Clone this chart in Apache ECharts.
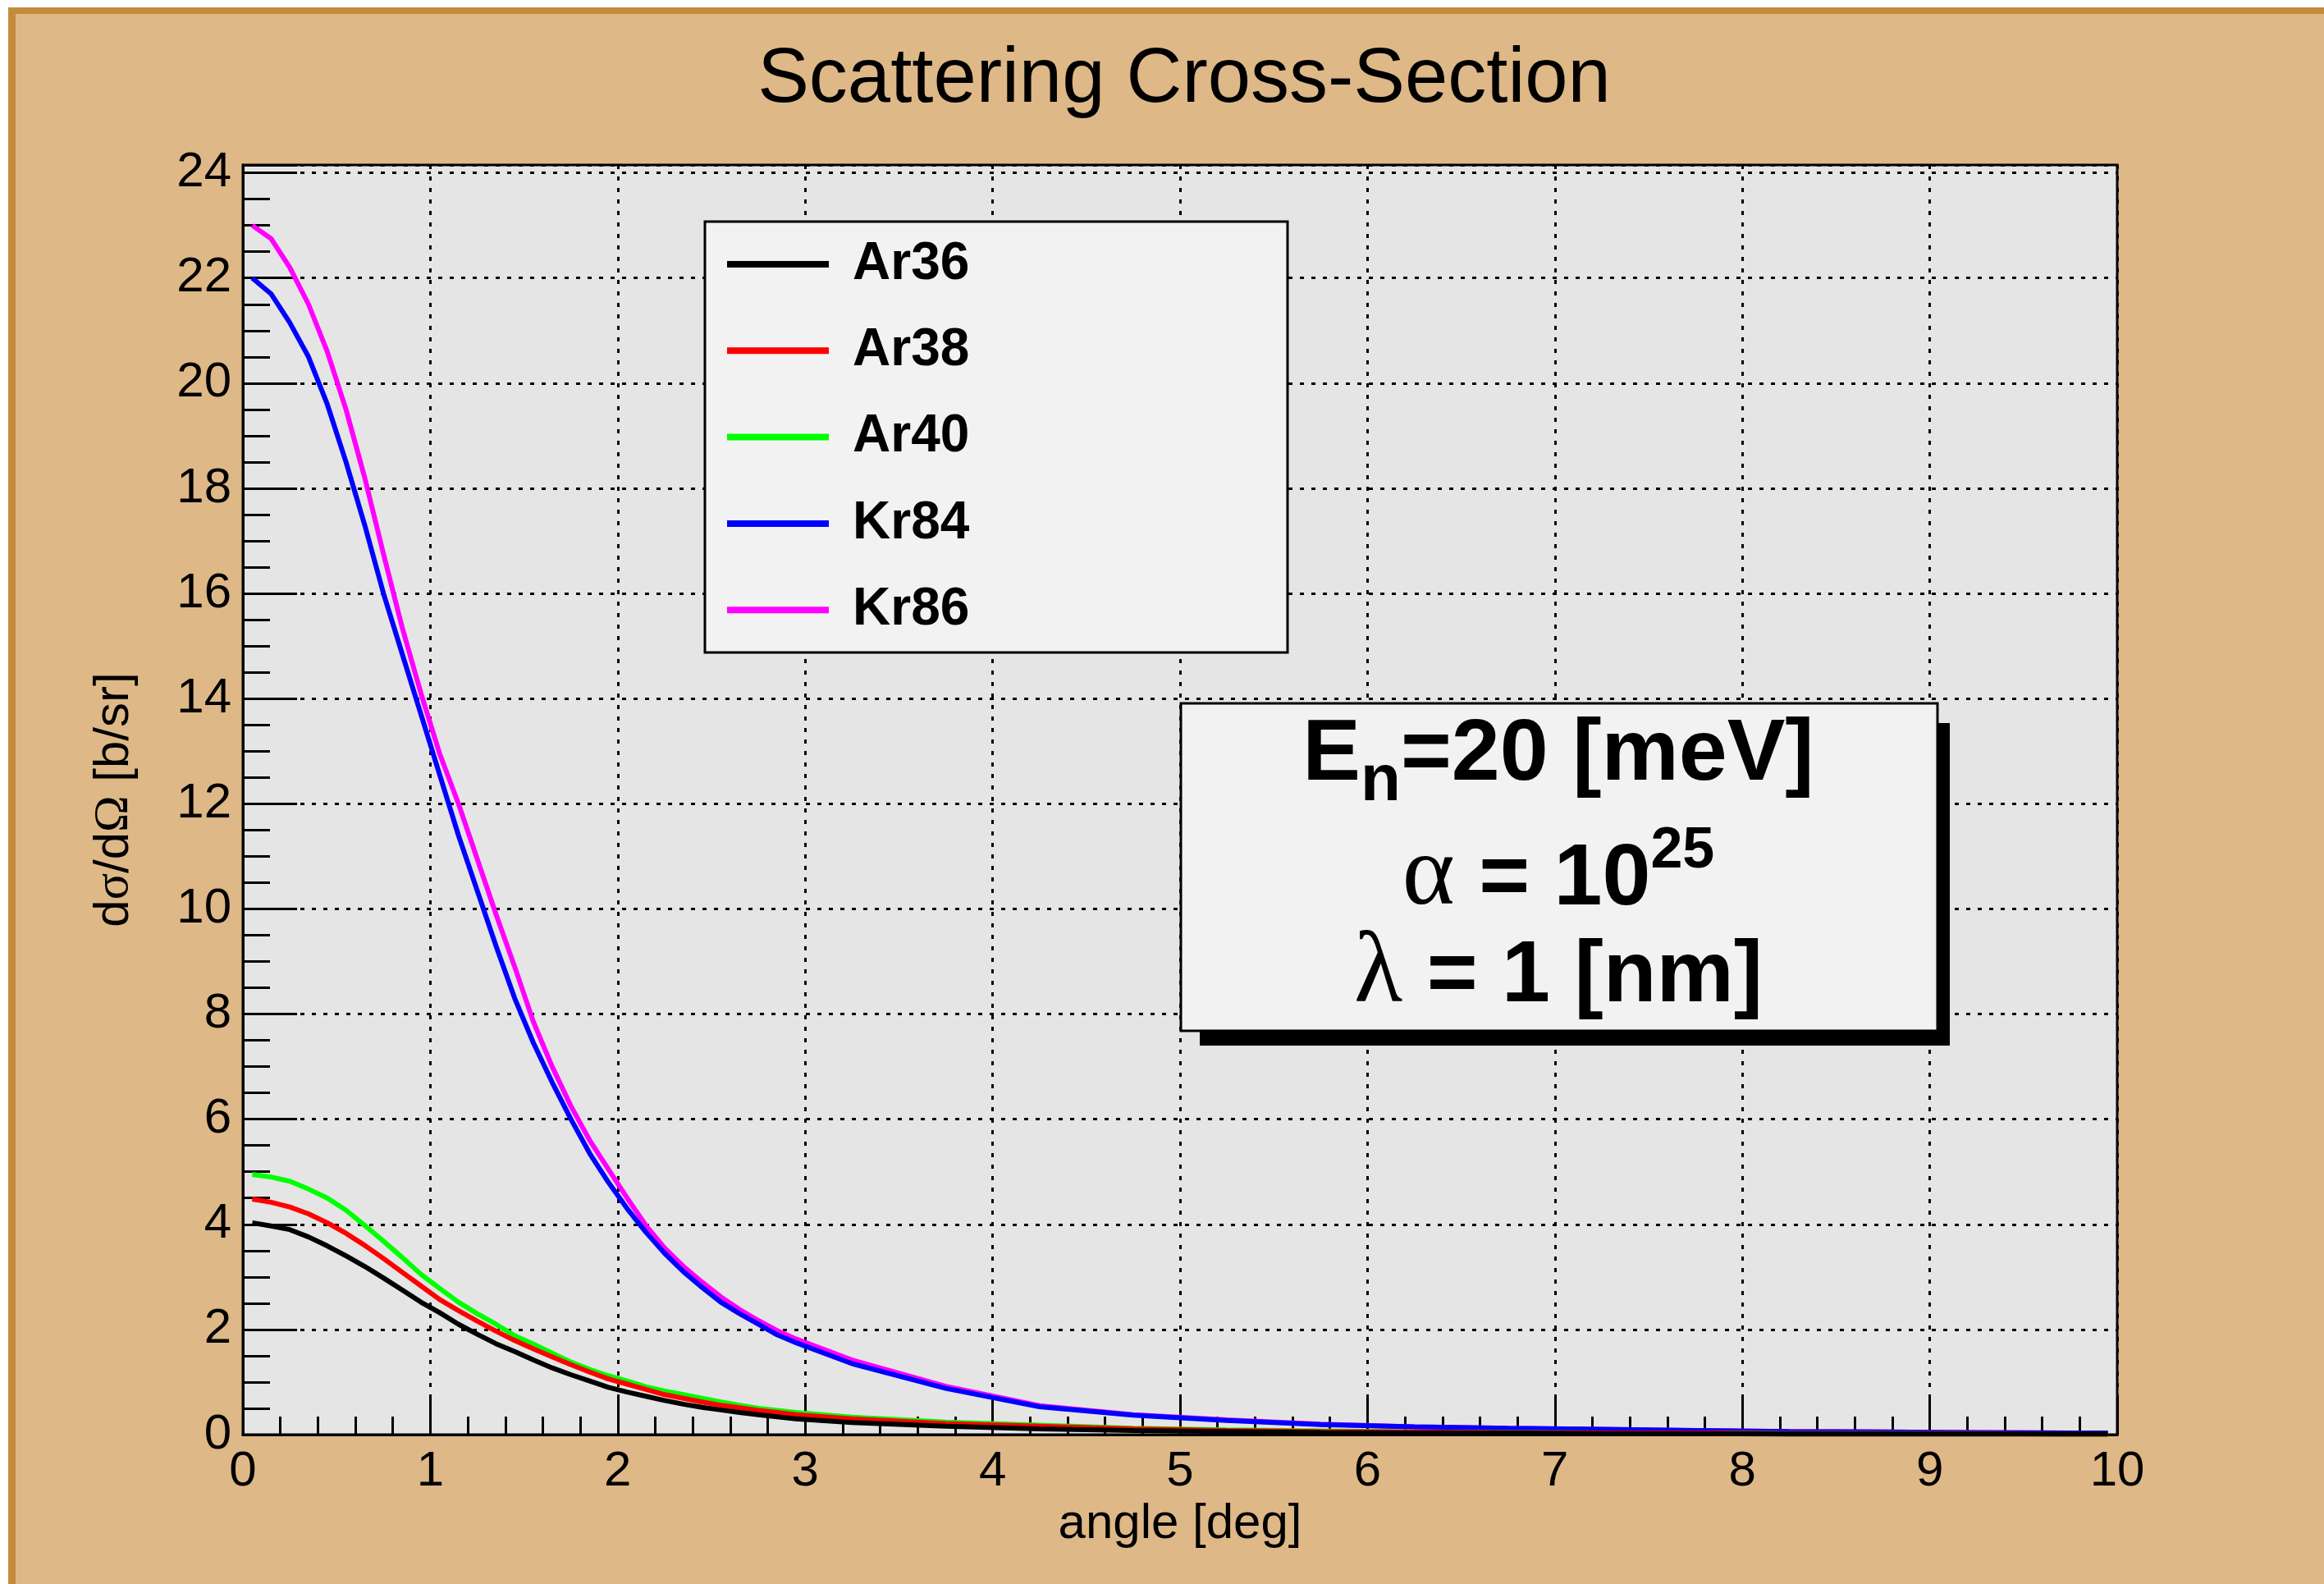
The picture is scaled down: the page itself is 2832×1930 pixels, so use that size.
<!DOCTYPE html>
<html>
<head>
<meta charset="utf-8">
<script src="https://cdn.jsdelivr.net/npm/echarts@6/dist/echarts.min.js"></script>
<style>html,body{margin:0;padding:0;background:#fff}#c{width:2832px;height:1930px}</style>
</head>
<body>
<div id="c"></div>
<script>
// ---------------- data ----------------
const angles = [0.05,0.15,0.25,0.35,0.45,0.55,0.65,0.75,0.85,0.95,
                1.05,1.15,1.25,1.35,1.45,1.55,1.65,1.75,1.85,1.95,
                2.05,2.15,2.25,2.35,2.45,2.55,2.65,2.75,2.85,2.95,
                3.25,3.75,4.25,4.75,5.25,5.75,6.25,6.75,7.25,7.75,8.25,8.75,9.25,9.75,9.95];
const ar36 = [4.03,3.97,3.90,3.76,3.59,3.40,3.20,2.98,2.75,2.52,
              2.32,2.10,1.91,1.73,1.58,1.42,1.27,1.14,1.02,0.90,
              0.81,0.73,0.65,0.58,0.52,0.47,0.42,0.38,0.34,0.30,
              0.23,0.16,0.11,0.08,0.06,0.04,0.03,0.03,0.02,0.02,0.01,0.01,0.01,0.01,0.01];
const ar38 = [4.48,4.42,4.33,4.20,4.03,3.83,3.60,3.35,3.09,2.83,
              2.57,2.36,2.16,1.97,1.79,1.63,1.48,1.33,1.19,1.06,
              0.96,0.86,0.76,0.69,0.62,0.56,0.51,0.46,0.42,0.38,
              0.30,0.21,0.16,0.11,0.08,0.06,0.05,0.04,0.03,0.03,0.02,0.02,0.02,0.01,0.01];
const ar40 = [4.95,4.90,4.82,4.67,4.50,4.27,3.98,3.68,3.37,3.05,
              2.78,2.52,2.30,2.10,1.88,1.72,1.55,1.38,1.24,1.12,
              1.02,0.91,0.83,0.76,0.69,0.62,0.56,0.50,0.46,0.42,
              0.33,0.24,0.18,0.12,0.09,0.07,0.05,0.04,0.03,0.03,0.02,0.02,0.02,0.01,0.01];
const kr84 = [22.0,21.7,21.15,20.5,19.6,18.5,17.3,16.0,14.85,13.7,
              12.55,11.4,10.35,9.3,8.3,7.45,6.7,6.0,5.35,4.8,
              4.3,3.85,3.45,3.1,2.8,2.52,2.3,2.1,1.9,1.75,
              1.35,0.88,0.53,0.37,0.27,0.19,0.15,0.12,0.10,0.08,0.06,0.05,0.04,0.03,0.03];
const kr86 = [23.0,22.75,22.2,21.5,20.6,19.5,18.2,16.75,15.35,14.1,
              12.95,12.0,10.95,9.9,8.9,7.85,7.0,6.25,5.6,5.05,
              4.5,3.98,3.55,3.2,2.9,2.62,2.38,2.17,1.98,1.82,
              1.42,0.92,0.55,0.38,0.28,0.2,0.15,0.12,0.10,0.08,0.06,0.05,0.04,0.03,0.03];
const seriesNames = ['Ar36','Ar38','Ar40','Kr84','Kr86'];
const seriesValues = {Ar36: ar36, Ar38: ar38, Ar40: ar40, Kr84: kr84, Kr86: kr86};
const xRange = [0, 10];
const yRange = [0, 24.15];

// ---------------- styles ----------------
const colors = {Ar36:'#000000', Ar38:'#FF0000', Ar40:'#00FF00', Kr84:'#0000FF', Kr86:'#FF00FF'};
const FF = '"Liberation Sans", Arial, Helvetica, sans-serif';
const SERIF = '"Liberation Serif", "Times New Roman", serif';

const chart = echarts.init(document.getElementById('c'), null, {renderer: 'canvas'});

// draw order: Kr86 first ... Ar36 last (on top)
const drawOrder = ['Kr86','Kr84','Ar40','Ar38','Ar36'];
const series = drawOrder.map(n => ({
  name: n, type: 'line', showSymbol: false, symbol: 'none', smooth: false,
  color: colors[n], itemStyle: {color: colors[n]},
  lineStyle: {color: colors[n], width: 6},
  clip: true, silent: true,
  data: angles.map((x, i) => [x, seriesValues[n][i]])
}));

// pave text helper
const mctx = document.createElement('canvas').getContext('2d');
function measure(t, font) { mctx.font = font; return mctx.measureText(t).width; }
function midOff(font, size) {
  mctx.font = font; mctx.textBaseline = 'alphabetic';
  const m = mctx.measureText('Hg');
  if (m.fontBoundingBoxAscent) return (m.fontBoundingBoxAscent - m.fontBoundingBoxDescent) / 2;
  return 0.35 * size;
}
const B106 = {font: 'bold 106px ' + FF, size: 106};
const B80 = {font: 'bold 80px ' + FF, size: 80};
const B70 = {font: 'bold 70px ' + FF, size: 70};
const S120 = {font: '122px ' + SERIF, size: 122};
const paveLines = [
  {baseline: 958, parts: [{t: 'E', f: B106}, {t: 'n', f: B80, dy: 22}, {t: '=20 [meV]', f: B106}]},
  {baseline: 1110, parts: [{t: 'α', f: S120}, {t: ' = 10', f: B106}, {t: '25', f: B70, dy: -48}]},
  {baseline: 1228, parts: [{t: 'λ', f: S120}, {t: ' = 1 [nm]', f: B106}]}
];
const paveCx = 1899;
const paveEls = [];
paveLines.forEach(line => {
  const widths = line.parts.map(p => measure(p.t, p.f.font));
  const total = widths.reduce((a, b) => a + b, 0);
  let x = paveCx - total / 2;
  line.parts.forEach((p, i) => {
    const base = line.baseline + (p.dy || 0);
    paveEls.push({
      type: 'text', x: x, y: base - midOff(p.f.font, p.f.size), z: 9, silent: true,
      style: {text: p.t, font: p.f.font, fill: '#000', align: 'left', verticalAlign: 'middle',
              textAlign: 'left', textVerticalAlign: 'middle'}
    });
    x += widths[i];
  });
});

const option = {
  backgroundColor: '#ffffff',
  animation: false,
  title: {
    text: 'Scattering Cross-Section', left: 1438, top: 46, textAlign: 'center', padding: 5,
    textStyle: {fontFamily: FF, fontWeight: 'normal', fontSize: 94, lineHeight: 94, color: '#000'}
  },
  grid: {
    left: 296, right: 252, top: 201, bottom: 182, show: true,
    backgroundColor: '#E5E5E5', borderColor: '#000', borderWidth: 3,
    containLabel: false, outerBoundsMode: 'none'
  },
  xAxis: {
    type: 'value', min: xRange[0], max: xRange[1], interval: 1,
    name: 'angle [deg]', nameLocation: 'middle', nameGap: 78,
    nameTextStyle: {fontFamily: FF, fontSize: 60, lineHeight: 60, color: '#000'},
    axisLine: {show: true, onZero: false, lineStyle: {color: '#000', width: 3}},
    axisTick: {show: true, inside: true, length: 46, lineStyle: {color: '#000', width: 3}},
    minorTick: {show: true, splitNumber: 5, length: 22, lineStyle: {color: '#000', width: 3}},
    axisLabel: {margin: 15, fontFamily: FF, fontSize: 60, color: '#000'},
    splitLine: {show: true, lineStyle: {color: '#000', width: 3, type: [5, 9]}},
    minorSplitLine: {show: false}
  },
  yAxis: {
    type: 'value', min: yRange[0], max: yRange[1], interval: 2,
    name: 'd{g|σ}/d{g|Ω} [b/sr]', nameLocation: 'middle', nameGap: 127, nameRotate: 90,
    nameTextStyle: {fontFamily: FF, fontSize: 60, lineHeight: 60, color: '#000',
      rich: {g: {fontFamily: SERIF, fontSize: 60, lineHeight: 60, color: '#000'}}},
    axisLine: {show: true, onZero: false, lineStyle: {color: '#000', width: 3}},
    axisTick: {show: true, inside: true, length: 66, lineStyle: {color: '#000', width: 3}},
    minorTick: {show: true, splitNumber: 4, length: 33, lineStyle: {color: '#000', width: 3}},
    axisLabel: {margin: 14, fontFamily: FF, fontSize: 60, color: '#000', showMaxLabel: false,
      formatter: v => (Math.abs(v - Math.round(v)) < 1e-6 ? String(Math.round(v)) : '')},
    splitLine: {show: true, lineStyle: {color: '#000', width: 3, type: [5, 9]}},
    minorSplitLine: {show: false}
  },
  legend: {
    data: seriesNames, orient: 'vertical', left: 886, top: 290, padding: 0,
    itemWidth: 124, itemHeight: 8, itemGap: 41.3, icon: 'rect', selectedMode: false,
    itemStyle: {borderWidth: 0},
    textStyle: {fontFamily: FF, fontWeight: 'bold', fontSize: 64, lineHeight: 64, color: '#000',
                padding: [0, 0, 0, 24]},
    z: 6
  },
  graphic: [
    {type: 'rect', z: -10, silent: true, shape: {x: 10, y: 9, width: 2822, height: 1921}, style: {fill: '#C58B3C'}},
    {type: 'rect', z: -9, silent: true, shape: {x: 19, y: 17, width: 2813, height: 1913}, style: {fill: '#DEB887'}},
    {type: 'rect', z: 5, silent: true, shape: {x: 859, y: 270, width: 710, height: 525},
     style: {fill: '#F2F2F2', stroke: '#000', lineWidth: 3}},
    {type: 'rect', z: 7, silent: true, shape: {x: 1462, y: 881, width: 914, height: 393}, style: {fill: '#000'}},
    {type: 'rect', z: 8, silent: true, shape: {x: 1439, y: 857, width: 922, height: 399},
     style: {fill: '#F2F2F2', stroke: '#000', lineWidth: 3}}
  ].concat(paveEls),
  series: series
};
chart.setOption(option);
</script>
</body>
</html>
